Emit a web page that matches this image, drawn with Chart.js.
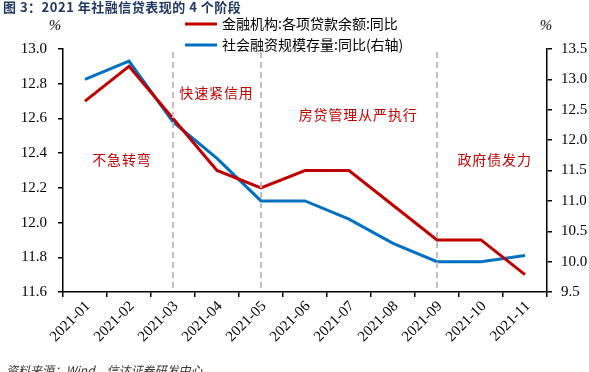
<!DOCTYPE html>
<html>
<head>
<meta charset="utf-8">
<script src="https://cdn.jsdelivr.net/npm/chart.js@4.4.0/dist/chart.umd.min.js"></script>
<style>
  html, body { margin: 0; padding: 0; background: #fff; }
  #wrap { position: relative; width: 589px; height: 372px; overflow: hidden; }
  #title {
    position: absolute; left: 3px; top: -3px;
    font: bold 13px "Noto Sans CJK SC", sans-serif; color: #1F3864;
    letter-spacing: 0.5px;
  }
  #source {
    position: absolute; left: 6px; top: 361px;
    font: italic 12px "Noto Sans CJK SC", sans-serif; color: #333;
  }
</style>
</head>
<body>
<div id="wrap">
  <canvas id="myChart" width="589" height="372"></canvas>
  <div id="title">图 3：2021 年社融信贷表现的 4 个阶段</div>
  <div id="source">资料来源：Wind，信达证券研发中心</div>
</div>
<script>
const ctx = document.getElementById('myChart').getContext('2d');

// months on the x axis
const months = ['2021-01', '2021-02', '2021-03', '2021-04', '2021-05', '2021-06',
                '2021-07', '2021-08', '2021-09', '2021-10', '2021-11'];

// 金融机构:各项贷款余额:同比 (left axis, %)
const loanGrowth = [12.7, 12.9, 12.6, 12.3, 12.2, 12.3, 12.3, 12.1, 11.9, 11.9, 11.7];

// 社会融资规模存量:同比 (right axis, %)
const tsfGrowth = [13.0, 13.3, 12.3, 11.7, 11.0, 11.0, 10.7, 10.3, 10.0, 10.0, 10.1];

// phase separators (dashed lines) sit on these months
const phaseBreaks = ['2021-03', '2021-05', '2021-09'];

// phase labels: text, x as category index, y on the left axis
const phaseText = ['不急转弯', '快速紧信用', '房贷管理从严执行', '政府债发力'];
const phaseX = [0.83, 2.98, 6.2, 9.3];
const phaseY = [12.36, 12.75, 12.62, 12.36];

const serif = "'Liberation Serif'";
const cjk = "'Noto Sans CJK SC'";

// chart.js ignored the serif family for ticks here, so tick labels are drawn by hand
const extras = {
    id: 'extras',
    afterDatasetsDraw(chart) {
        const c = chart.ctx;
        const x = chart.scales.x;
        const y = chart.scales.y;
        const y1 = chart.scales.y1;
        const area = chart.chartArea;

        c.save();
        c.strokeStyle = '#BFBFBF';
        c.lineWidth = 2;
        c.setLineDash([6, 4]);
        phaseBreaks.forEach(m => {
            const px = Math.round(x.getPixelForValue(months.indexOf(m)));
            c.beginPath();
            c.moveTo(px, area.top + 3);
            c.lineTo(px, area.bottom);
            c.stroke();
        });
        c.setLineDash([]);

        c.fillStyle = '#C00000';
        c.font = '14px ' + cjk;
        c.textAlign = 'center';
        c.textBaseline = 'middle';
        phaseText.forEach((t, i) => {
            c.fillText(t.split('').join(String.fromCharCode(8202)), x.getPixelForValue(phaseX[i]), y.getPixelForValue(phaseY[i]));
        });

        // tick labels
        c.fillStyle = '#000';
        c.font = '15px ' + serif;
        c.textAlign = 'right';
        y.ticks.forEach((t, i) => c.fillText(t.value.toFixed(1), area.left - 16, y.getPixelForTick(i)));
        c.textAlign = 'left';
        y1.ticks.forEach((t, i) => c.fillText(t.value.toFixed(1), area.right + 14, y1.getPixelForTick(i)));
        c.textAlign = 'right';
        months.forEach((m, i) => {
            c.save();
            c.translate(x.getPixelForValue(i) + 3, area.bottom + 12);
            c.rotate(-Math.PI / 4);
            c.fillText(m, 0, 0);
            c.restore();
        });

        // units
        c.textAlign = 'center';
        c.font = 'italic 15px ' + serif;
        c.fillText('%', 55, 26);
        c.fillText('%', 546, 26);

        // legend
        c.textAlign = 'left';
        c.font = '14px ' + cjk;
        chart.data.datasets.forEach((ds, i) => {
            const ly = 24 + i * 21;
            c.strokeStyle = ds.borderColor;
            c.lineWidth = 3;
            c.beginPath();
            c.moveTo(185, ly);
            c.lineTo(217, ly);
            c.stroke();
            c.fillStyle = '#000';
            c.fillText(ds.label, 222, ly);
        });
        c.restore();
    }
};

const data = {
    labels: months,
    datasets: [{
        label: '金融机构:各项贷款余额:同比',
        data: loanGrowth,
        borderColor: '#C00000',
        backgroundColor: '#C00000',
        borderWidth: 3,
        pointRadius: 0,
        yAxisID: 'y'
    }, {
        label: '社会融资规模存量:同比(右轴)',
        data: tsfGrowth,
        borderColor: '#0070C0',
        backgroundColor: '#0070C0',
        borderWidth: 3,
        pointRadius: 0,
        yAxisID: 'y1'
    }]
};

const axisGrid = {
    drawOnChartArea: false,
    drawTicks: true,
    tickLength: 5,
    color: '#000',
    lineWidth: 1.5
};

const options = {
    responsive: false,
    animation: false,
    layout: {
        padding: { top: 49, left: 58, right: 37, bottom: 75 }
    },
    scales: {
        x: {
            offset: true,
            grid: { ...axisGrid, offset: true },
            border: { display: true, color: '#000', width: 1.5 },
            ticks: { display: false }
        },
        y: {
            position: 'left',
            min: 11.6,
            max: 13.0,
            grid: axisGrid,
            border: { display: true, color: '#000', width: 1.5 },
            ticks: { display: false, stepSize: 0.2 }
        },
        y1: {
            position: 'right',
            min: 9.5,
            max: 13.5,
            grid: axisGrid,
            border: { display: true, color: '#000', width: 1.5 },
            ticks: { display: false, stepSize: 0.5 }
        }
    },
    plugins: {
        legend: { display: false },
        tooltip: { enabled: false }
    }
};

new Chart(ctx, {
    type: 'line',
    data: data,
    options: options,
    plugins: [extras]
});
</script>
</body>
</html>
